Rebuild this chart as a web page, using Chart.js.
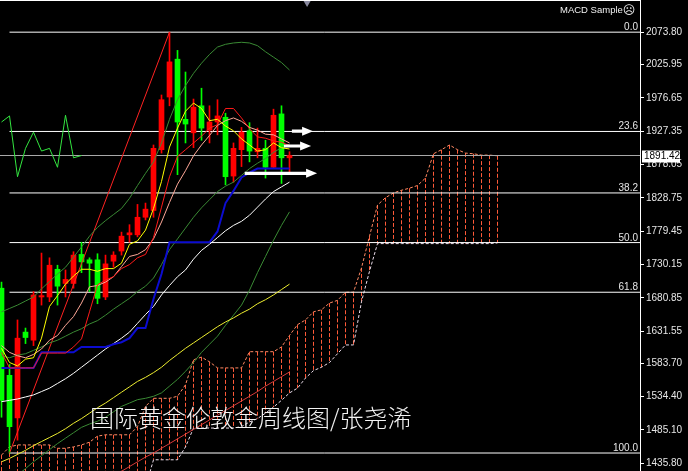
<!DOCTYPE html>
<html><head><meta charset="utf-8">
<script src="https://cdn.jsdelivr.net/npm/chart.js@4.4.1/dist/chart.umd.min.js"></script>
<style>
html,body{margin:0;padding:0;background:#000;}
#wrap{position:relative;width:688px;height:471px;overflow:hidden;background:#000;}
#c{position:absolute;left:0;top:0;}
#macd{position:absolute;left:560px;top:3px;color:#f0f0f0;font:9.5px "Liberation Sans",Arial,sans-serif;line-height:12px;white-space:nowrap;}
#macd span{font:12px "DejaVu Sans";vertical-align:-1px;}
#wm{position:absolute;left:90px;top:405px;color:#f4f4f4;font:300 24px "Noto Sans CJK SC";line-height:24px;white-space:nowrap;}
</style></head>
<body><div id="wrap"><canvas id="c" width="688" height="471"></canvas>
<div id="macd">MACD Sample<span>☹</span></div>
<div id="wm">国际黄金伦敦金周线图/张尧浠</div></div>
<script>
// ---- weekly candles (bar index 0 = first visible week) ----
const open  = [1695,1566,1503,1630,1618,1682,1682,1723,1702,1702,1745,1737,1737,1682,1735,1750,1774,1774,1800,1810,1900,1978,2034,1945,1925,1965,1929,1941,1948,1861,1900,1928,1897,1902,1874,1953,1888];
const high  = [1704,1582,1648,1636,1690,1747,1740,1729,1722,1749,1763,1740,1746,1744,1749,1778,1789,1819,1821,1907,1981,2074,2047,2015,1975,1991,1965,1974,1954,1910,1933,1940,1932,1914,1960,1965,1897];
const low   = [1504,1451,1470,1613,1610,1670,1675,1670,1682,1695,1718,1690,1672,1678,1726,1744,1763,1771,1796,1800,1895,1965,1863,1910,1903,1914,1910,1922,1848,1852,1875,1882,1888,1858,1873,1850,1866];
const close = [1529,1490,1621,1622,1685,1684,1729,1698,1708,1744,1734,1732,1680,1731,1744,1772,1777,1800,1812,1902,1974,2030,1941,1938,1963,1932,1941,1950,1860,1902,1926,1898,1902,1874,1951,1888,1891.42];

// ---- moving averages ----
const ma5   = [1606,1585,1580,1590,1592,1621,1668,1684,1701,1713,1723,1723,1720,1724,1724,1732,1760,1765,1781,1813,1853,1904,1932,1957,1969,1961,1943,1945,1935,1928,1916,1907,1898,1900,1910,1903,1901];
const ma10  = [1610,1600,1595,1592,1597,1605,1618,1625,1640,1653,1673,1697,1699,1704,1712,1727,1742,1745,1752,1768,1793,1822,1849,1869,1891,1907,1921,1936,1943,1947,1942,1933,1929,1923,1922,1916,1910];
const ma30  = [1527,1529,1531,1534,1537,1542,1547,1554,1561,1569,1578,1587,1596,1605,1613,1621,1630,1643,1656,1668,1685,1699,1712,1722,1738,1751,1760,1770,1780,1788,1794,1803,1815,1827,1838,1845,1852];
const ma60  = [1438,1443,1449,1455,1462,1468,1474,1480,1487,1495,1502,1510,1518,1525,1533,1541,1549,1557,1563,1570,1578,1588,1597,1606,1614,1622,1630,1638,1645,1651,1658,1664,1672,1678,1685,1693,1701];
const ma120Start = 15;
const ma120 = [1424,1431,1438,1445,1451,1458,1465,1472,1479,1486,1493,1500,1507,1514,1521,1528,1535,1542,1550,1557,1564,1571];

// ---- Bollinger bands ----
const bbUpper = [1660,1665,1670,1676,1682,1694,1705,1716,1726,1741,1756,1772,1785,1795,1804,1813,1828,1847,1865,1882,1910,1945,1974,1995,2013,2028,2041,2052,2056,2058,2059,2058,2054,2045,2037,2029,2018];
const bbMid   = [1595,1592,1596,1598,1603,1608,1614,1618,1624,1630,1635,1642,1647,1655,1664,1672,1680,1690,1698,1710,1730,1752,1768,1784,1800,1814,1826,1838,1846,1852,1862,1872,1880,1887,1896,1903,1908];
const bbLower = [null,null,1418,1428,1438,1447,1456,1465,1473,1481,1489,1494,1498,1504,1512,1520,1525,1530,1532,1535,1540,1550,1560,1572,1585,1600,1612,1624,1640,1655,1670,1692,1718,1742,1766,1788,1808];

// ---- Ichimoku ----
const tenkan = [1600,1577,1577,1577,1577,1599,1599,1599,1599,1608,1620,1660,1700,1707,1712,1724,1730,1740,1745,1770,1815,1860,1890,1900,1910,1920,1932,1937,1961,1961,1947,1931,1919,1917,1913,1911,1906];
const kijun  = [1577,1577,1577,1577,1577,1600,1600,1600,1600,1600,1608,1608,1608,1608,1612,1615,1621,1636,1636,1679,1716,1763,1763,1763,1763,1763,1763,1779,1821,1839,1859,1866,1872,1872,1872,1872,1872];
const chikou = [1941,1950,1860,1902,1926,1898,1902,1874,1951,1888,1891.42];
const spanA = [1448,1460,1463,1463,1463,1463,1463,1458,1458,1460,1463,1467,1476,1478,1478,1478,1478,1490,1520,1532,1532,1532,1535,1552,1589,1593,1586,1577,1577,1577,1577,1601,1601,1601,1601,1608,1625,1641,1648,1660,1663,1673,1677,1689,1689,1725,1772,1818,1829,1836,1840,1843,1847,1858,1894,1900,1907,1900,1895,1894,1892,1892,1891];
const spanB = [1400,1400,1400,1400,1400,1400,1400,1400,1400,1400,1400,1400,1400,1400,1400,1400,1400,1400,1400,1441,1441,1441,1441,1460,1488,1488,1488,1488,1488,1488,1490,1497,1502,1510,1519,1529,1540,1547,1562,1573,1578,1585,1598,1611,1611,1675,1720,1761,1761,1761,1761,1761,1761,1761,1761,1761,1761,1761,1761,1761,1761,1761,1762];

// ---- Fibonacci retracement ----
const fibLevels = ['0.0','23.6','38.2','50.0','61.8','100.0'];
const fibPrices = [2074.0,1927.0,1836.0,1762.5,1689.0,1451.0];
const fibLowBar = 1, fibHighBar = 21;

// ---- price axis ----
const priceTicks = [2073.80,2025.95,1976.65,1927.35,1878.05,1828.75,1779.45,1730.15,1680.85,1631.55,1583.70,1534.40,1485.10,1435.80];
const lastPrice = 1891.42;
const yMin = 1424.4, yMax = 2121.6;
const xMin = -0.1875, xMax = 79.8125;

// ---- drawn annotations (bar index / price) ----
const arrows = [
  {from: 36.3, to: 38.95, price: 1927.5},
  {from: 35.3, to: 38.7,  price: 1905.5},
  {from: 30.4, to: 39.45, price: 1865.0}
];
const shiftMarker = {bar: 38.2, price: 2118.5};

const UP = '#ff0000', DOWN = '#00ff00';
const pts = (arr, start = 0) => arr.map((v, i) => ({x: i + start, y: v})).filter(p => p.y !== null);
const candleColors = close.map((c, i) => c >= open[i] ? UP : DOWN);
const bodies = close.map((c, i) => ({x: i, y: [open[i], c]}));
const wicks = close.map((c, i) => ({x: i, y: [low[i], high[i]]}));

const canvas = document.getElementById('c');

function line(data, color, order, extra) {
  return Object.assign({type: 'line', data, borderColor: color, borderWidth: 1, pointRadius: 0, fill: false, tension: 0, order}, extra || {});
}

const datasets = [];
datasets.push(line(pts(ma5), '#ffff00', 2));
datasets.push(line(pts(ma10), '#ffa898', 3));
datasets.push(line(pts(tenkan), '#ff1a1a', 2));
datasets.push(line(pts(kijun), '#0c0cd0', 2, {borderWidth: 2}));
datasets.push(line(pts(ma30), '#ffffff', 4));
datasets.push(line(pts(ma60), '#eeee30', 4));
datasets.push(line(pts(ma120, ma120Start), '#d83a3a', 4));
datasets.push(line(pts(bbUpper), '#3a8a34', 5));
datasets.push(line(pts(bbMid), '#3a8a34', 5));
datasets.push(line(pts(bbLower), '#3a8a34', 5));
datasets.push(line(pts(chikou), '#33e640', 3));
datasets.push(line([{x: fibLowBar, y: fibPrices[5]}, {x: fibHighBar, y: fibPrices[0]}], '#ff2222', 6));
datasets.push({type: 'bar', data: bodies, backgroundColor: candleColors, barThickness: 5, grouped: false, borderWidth: 0, minBarLength: 1, order: 20});
datasets.push({type: 'bar', data: wicks, backgroundColor: candleColors, barThickness: 1, grouped: false, borderWidth: 0, minBarLength: 1, order: 21});
fibPrices.forEach(p => datasets.push(line([{x: fibLowBar, y: p}, {x: xMax, y: p}], '#ffffff', 30)));
datasets.push(line([{x: xMin, y: lastPrice}, {x: xMax, y: lastPrice}], '#a8a8a8', 31));
datasets.push(line(pts(spanA), '#ff8a64', 40, {borderDash: [3, 2]}));
datasets.push(line(pts(spanB), '#eadcea', 41, {borderDash: [3, 2]}));
datasets.push({type: 'line', data: [{x: shiftMarker.bar, y: shiftMarker.price}], showLine: false, pointStyle: 'triangle', rotation: 180, pointRadius: 5, pointBackgroundColor: '#8a8aa0', pointBorderWidth: 0, order: 0});

const overlay = {
  id: 'overlay',
  beforeDatasetsDraw(chart) {
    // Ichimoku cloud hatching: one dashed vertical per bar between span A and span B
    const {ctx, chartArea: a, scales: {x, y}} = chart;
    ctx.save();
    ctx.beginPath(); ctx.rect(a.left, a.top, a.right - a.left, a.bottom - a.top); ctx.clip();
    ctx.strokeStyle = '#ff5a38'; ctx.lineWidth = 1; ctx.setLineDash([4, 2]);
    spanA.forEach((v, i) => {
      const px = Math.floor(x.getPixelForValue(i)) + 0.5;
      ctx.beginPath();
      ctx.moveTo(px, y.getPixelForValue(v));
      ctx.lineTo(px, y.getPixelForValue(spanB[i]));
      ctx.stroke();
    });
    ctx.restore();
  },
  afterDatasetsDraw(chart) {
    const {ctx, chartArea: a, scales: {x, y}} = chart;
    ctx.save();
    ctx.strokeStyle = '#ffffff'; ctx.lineWidth = 1;
    ctx.beginPath(); ctx.moveTo(a.left, 0.5); ctx.lineTo(a.right, 0.5); ctx.stroke();
    ctx.font = '10px "Liberation Sans"';
    ctx.fillStyle = '#e6e6e6';
    ctx.textAlign = 'right'; ctx.textBaseline = 'alphabetic';
    fibLevels.forEach((lv, i) => ctx.fillText(lv, a.right - 2, y.getPixelForValue(fibPrices[i]) - 2));
    ctx.fillStyle = '#ffffff';
    arrows.forEach(ar => {
      const x0 = x.getPixelForValue(ar.from), x1 = x.getPixelForValue(ar.to), py = y.getPixelForValue(ar.price);
      const head = 11, half = 4.5, sh = 1.6;
      ctx.beginPath();
      ctx.moveTo(x0, py - sh); ctx.lineTo(x1 - head, py - sh); ctx.lineTo(x1 - head, py - half);
      ctx.lineTo(x1, py); ctx.lineTo(x1 - head, py + half); ctx.lineTo(x1 - head, py + sh); ctx.lineTo(x0, py + sh);
      ctx.closePath(); ctx.fill();
    });
    ctx.restore();
  },
  afterDraw(chart) {
    const {ctx, chartArea: a, scales: {y}} = chart;
    const py = Math.round(y.getPixelForValue(lastPrice));
    ctx.save();
    ctx.fillStyle = '#ffffff';
    ctx.fillRect(a.right + 2, py - 5.5, 38, 12);
    ctx.fillStyle = '#000000';
    ctx.font = '10px "Liberation Sans"';
    ctx.textAlign = 'left'; ctx.textBaseline = 'middle';
    ctx.fillText(lastPrice.toFixed(2), a.right + 4, py + 0.5);
    ctx.restore();
  }
};

new Chart(canvas, {
  type: 'line',
  data: {datasets},
  options: {
    responsive: false, animation: false, devicePixelRatio: 1, events: [],
    layout: {padding: 0, autoPadding: false},
    plugins: {legend: {display: false}, tooltip: {enabled: false}},
    scales: {
      x: {type: 'linear', min: xMin, max: xMax, display: false, offset: false},
      y: {
        type: 'linear', position: 'right', min: yMin, max: yMax, beginAtZero: false,
        afterBuildTicks: s => { s.ticks = priceTicks.map(v => ({value: v})); },
        afterFit: s => { s.width = 48; s.paddingTop = 0; s.paddingBottom = 0; },
        ticks: {color: '#e6e6e6', font: {family: 'Liberation Sans', size: 10}, padding: 2, autoSkip: false, callback: v => Number(v).toFixed(2)},
        grid: {drawOnChartArea: false, drawTicks: true, tickLength: 4, color: '#ffffff'},
        border: {display: true, color: '#ffffff', width: 1}
      }
    }
  },
  plugins: [overlay]
});
</script></body></html>
